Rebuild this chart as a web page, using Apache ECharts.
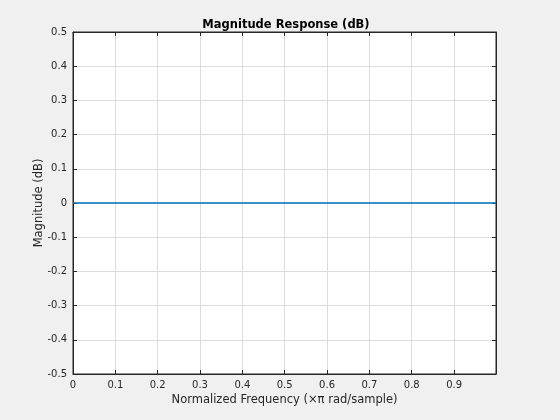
<!DOCTYPE html>
<html>
<head>
<meta charset="utf-8">
<script src="https://cdn.jsdelivr.net/npm/echarts@6/dist/echarts.min.js"></script>
<style>
  html, body { margin: 0; padding: 0; background: #f0f0f0; }
  #chart { width: 560px; height: 420px; }
</style>
</head>
<body>
<div id="chart"></div>
<script>
// normalized frequency (x pi rad/sample) and magnitude (dB)
var freq = [0, 0.999];
var magDb = [0, 0];
var xTicks = [0, 0.1, 0.2, 0.3, 0.4, 0.5, 0.6, 0.7, 0.8, 0.9];
var yTicks = [-0.5, -0.4, -0.3, -0.2, -0.1, 0, 0.1, 0.2, 0.3, 0.4, 0.5];

var chart = echarts.init(document.getElementById('chart'));

var fontFam = 'DejaVu Sans';
var fmt = function (v) { return String(Math.round(v * 10) / 10); };

function xAx(pos, main) {
  return {
    type: 'value',
    position: pos,
    min: 0,
    max: 0.999,
    name: main ? 'Normalized Frequency (\u00d7\u03c0 rad/sample)' : '',
    nameLocation: 'middle',
    nameGap: 20,
    nameMoveOverlap: false,
    nameTextStyle: { color: '#262626', fontSize: 11.5, fontFamily: fontFam },
    axisLine: { show: true, onZero: false, lineStyle: { color: '#262626' } },
    axisTick: { show: true, inside: true, length: 4, customValues: xTicks, lineStyle: { color: '#262626' } },
    axisLabel: { show: main, margin: 6, customValues: xTicks, formatter: fmt, color: '#262626', fontSize: 10, fontFamily: fontFam },
    splitLine: { show: main, lineStyle: { color: '#dcdcdc', width: 1 } }
  };
}

function yAx(pos, main) {
  return {
    type: 'value',
    position: pos,
    min: -0.5,
    max: 0.5,
    name: main ? 'Magnitude (dB)' : '',
    nameLocation: 'middle',
    nameGap: 28,
    nameMoveOverlap: false,
    nameTextStyle: { color: '#262626', fontSize: 11.5, fontFamily: fontFam },
    axisLine: { show: true, onZero: false, lineStyle: { color: '#262626' } },
    axisTick: { show: true, inside: true, length: 4, customValues: yTicks, lineStyle: { color: '#262626' } },
    axisLabel: { show: main, margin: 6, customValues: yTicks, formatter: fmt, color: '#262626', fontSize: 10, fontFamily: fontFam },
    splitLine: { show: main, lineStyle: { color: '#dcdcdc', width: 1 } }
  };
}

var option = {
  backgroundColor: '#f0f0f0',
  animation: false,
  title: {
    text: 'Magnitude Response (dB)',
    left: 281,
    top: 14,
    textAlign: 'center',
    textStyle: { fontSize: 11.5, fontWeight: 'bold', color: '#000', fontFamily: fontFam }
  },
  grid: {
    left: 73,
    right: 64,
    top: 32,
    bottom: 46,
    show: true,
    backgroundColor: '#fff',
    borderColor: '#262626',
    borderWidth: 1
  },
  xAxis: [xAx('bottom', true), xAx('top', false)],
  yAxis: [yAx('left', true), yAx('right', false)],
  series: [
    {
      type: 'line',
      data: freq.map(function (f, i) { return [f, magDb[i]]; }),
      showSymbol: false,
      lineStyle: { color: '#0072bd', width: 1.3 }
    }
  ]
};

chart.setOption(option);
</script>
</body>
</html>
